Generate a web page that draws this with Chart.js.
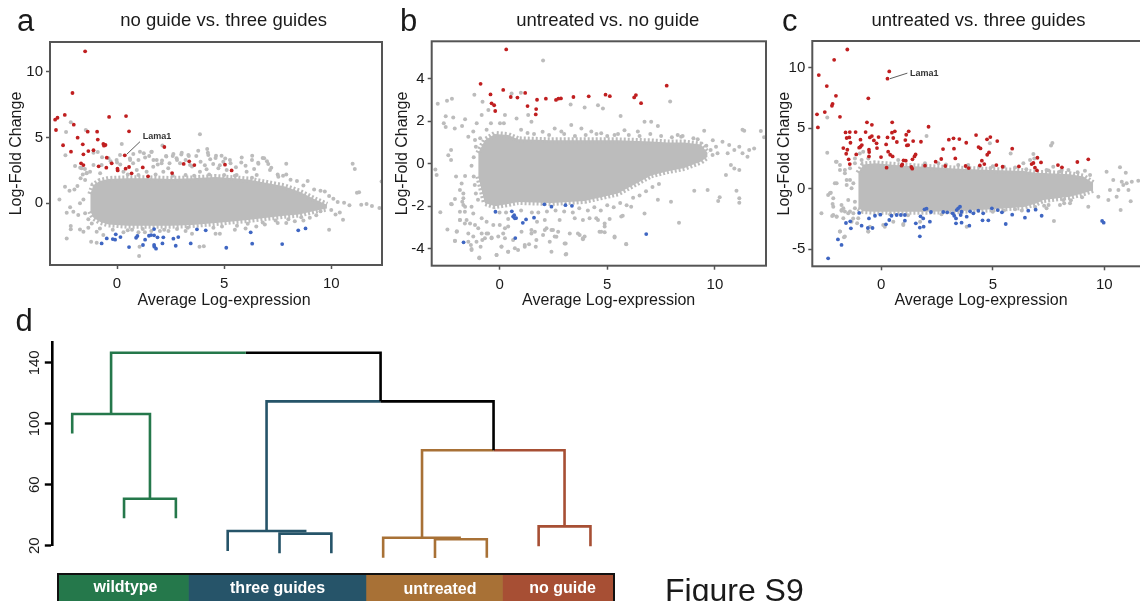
<!DOCTYPE html>
<html>
<head>
<meta charset="utf-8">
<title>Figure S9</title>
<script src="https://cdn.jsdelivr.net/npm/chart.js@4"></script>
<style>
  html, body { margin: 0; padding: 0; background: #fff; }
  #page { position: relative; width: 1140px; height: 601px; overflow: hidden; font-family: "Liberation Sans", Arial, sans-serif; }
  canvas { position: absolute; }
  .txt { position: absolute; white-space: nowrap; line-height: 1; color: #1a1a1a; }
  #keyBox { position: absolute; left: 57px; top: 572.7px; width: 554px; height: 40px; border: 2.6px solid #111; }
  #keyBox canvas { left: 0; top: 0; }
</style>
</head>
<body>
<div id="page">
  <canvas id="panelA" width="390" height="300" style="left:0;top:0"></canvas>
  <canvas id="panelB" width="385" height="300" style="left:385px;top:0"></canvas>
  <canvas id="panelC" width="400" height="300" style="left:770px;top:0"></canvas>
  <canvas id="panelD" width="640" height="230" style="left:0;top:335px"></canvas>
  <div id="keyBox"><canvas id="panelKey" width="554" height="40"></canvas></div>
</div>
<script>
const xTicks = [0, 5, 10];
const aYTicks = [0, 5, 10];
const bYTicks = [-4, -2, 0, 2, 4];
const cYTicks = [-5, 0, 5, 10];
const dYTicks = [20, 60, 100, 140];

// panel a: edges of the solid grey cloud, then the single points
const aCloudX = [-1.25, -1.1, -0.8, -0.4, 0.5, 1.5, 2.5, 3.5, 4.6, 5.5, 6.2, 7, 7.8, 8.5, 9.3, 9.8];
const aCloudTop = [0.7, 1.4, 1.7, 1.85, 1.9, 1.9, 1.85, 1.9, 2, 1.9, 1.8, 1.55, 1.3, 0.9, 0.25, -0.1];
const aCloudBottom = [-0.6, -1.1, -1.4, -1.6, -1.7, -1.7, -1.7, -1.65, -1.5, -1.35, -1.25, -1.1, -0.95, -0.85, -0.55, -0.4];
const aGrey = [[-2.16,6.15],[-2.38,5.42],[-1.46,5.57],[3.87,5.24],[4.21,4.13],[4.24,3.85],[0.22,4.5],[2.12,4.4],[-2.41,3.65],[-1.96,2.84],[-1.72,2.7],[-1.5,2.6],[-1.42,2.3],[-1.6,2.2],[-1.7,1.9],[-1.1,3.85],[-0.9,3.9],[-0.7,3.5],[-0.3,3.2],[0,3.1],[0.15,2.95],[0.6,3.4],[0.75,3.05],[1,3.3],[1.25,3.8],[1.5,3.6],[1.6,3.9],[1.7,3.3],[1.9,2.95],[2.1,3.25],[2.3,3.55],[2.45,3.05],[2.6,3.6],[2.8,3.3],[3,3.7],[3.2,3.3],[3.35,3.6],[3.5,2.8],[3.7,3.6],[3.9,3.15],[4.1,2.9],[4.35,3.35],[4.6,3.45],[4.8,2.9],[5.05,3.4],[5.3,3.05],[5.55,2.75],[5.8,3.1],[6,2.85],[6.3,3.3],[6.6,3],[6.8,3.45],[7,3.2],[7.2,2.7],[6.4,2.6],[7.5,2.2],[7.75,2.1],[7.9,2.2],[7.9,3],[8.1,1.8],[8.4,1.7],[8.7,1.35],[8.9,1.7],[9.2,1.05],[9.5,0.95],[9.7,0.9],[9.9,0.55],[10.1,0.35],[10.3,0.1],[10.6,0.05],[10.85,-0.15],[11,3],[11.1,2.6],[11.2,0.8],[11.3,0.85],[11.4,-0.1],[11.65,-0.05],[11.9,-0.2],[12.25,-0.35],[12.35,1.65],[10,-0.5],[10.2,-0.85],[10.4,-0.7],[9.9,-2],[10.55,-1.25],[9.5,-0.6],[9.3,-0.9],[9,-1.1],[8.7,-1.3],[8.3,-1.35],[7.9,-1.5],[7.5,-1.5],[6.9,-1.6],[6.5,-1.75],[6,-1.9],[5.5,-2],[4.6,-2.3],[4.8,-2.3],[3.85,-3.3],[4.05,-3.25],[1,-2.2],[1.3,-2.2],[2,-2.1],[2.4,-2.1],[3.2,-2.1],[3.5,-2.3],[1.05,-3.3],[0.7,-2],[0.3,-2.2],[1.03,-4],[-2.69,0.3],[-2.43,1.26],[-2.22,0.96],[-1.99,1.06],[-1.85,1.31],[-2.19,-0.3],[-2.35,-0.71],[-2.04,-0.64],[-1.81,-0.89],[-1.73,0],[-1.57,0.3],[-1.49,-0.76],[-1.34,-1.2],[-1.18,-1.52],[-2.16,-1.72],[-2.16,-1.97],[-1.73,-1.98],[-1.57,-2.15],[-1.34,-1.85],[-2.35,-2.66],[-1.21,-2.91],[-0.95,-2.99],[-0.95,-2.15],[-0.64,-2.41],
  [-1.65,2.66],[-1.42,2.28],[-1.1,2.91],[-1.26,2.4],[-0.72,2.91],[-0.4,3.42],[-0.02,3.29],[0.14,3.67],[0.61,3.29],[0.76,3.75],[1.07,3.92],[1.31,3.49],[1.62,3.92],[1.85,3.29],[2.08,3.04],[2.29,3.59],[2.63,3.75],[2.78,3.42],[3.02,3.85],[3.33,3.67],[2.94,3.04],[3.41,2.91],[3.79,4],[4.26,3.67],[4.62,3.62],[4.88,3.62],[4.96,3.16],[4.49,2.99],[4.18,2.58],[4.73,2.66],[5.12,2.53],[5.27,3.29],[5.82,3.49],[6.31,3.62],[6.59,3.09],[7.06,2.99],[6.87,3.42],[6.05,2.4],[6.52,2.15],[7.14,2.53],[7.53,2.02],[5.58,2.15],[3.87,2.4],[2.16,2.4],[2.39,2.66],[1.69,2.78],[1.38,2.4],[0.92,2.53],[0.3,2.4],[-0.79,2.28],[-1.49,1.77],
  [0.5,2.2],[1,2.15],[1.8,2.2],[2.6,2.1],[3.2,2.15],[3.6,2.1],[4.3,2.2],[5,2.15],[5.5,2.1],[6.3,1.95],[-0.8,-1.9],[-0.2,-2],[0.5,-2.05],[1.2,-1.95],[1.6,-2.1],[2.2,-2],[2.8,-1.95],[3.3,-1.85],[4.5,-1.85],[4.9,-1.75],[5.6,-1.7],[6.1,-1.55],[6.8,-1.45],[7.4,-1.3],[8,-1.2],[8.6,-1.05]];
const aRed = [[-1.49,11.54],[-2.08,8.38],[-2.44,6.71],[-2.89,6.35],[-2.78,6.5],[-2.02,5.97],[-0.37,6.56],[0.42,6.63],[-2.85,5.57],[-1.37,5.44],[-0.93,5.44],[0.56,5.47],[-1.84,4.99],[-0.9,4.84],[-1.6,4.48],[-0.64,4.51],[-0.54,4.43],[-0.61,4.38],[-2.52,4.41],[-1.1,4.03],[-1.34,3.97],[-2.15,3.92],[-1.57,3.72],[-0.48,3.47],[0.36,3.65],[2.21,4.28],[-1.68,3.04],[-1.57,2.91],[-0.86,2.81],[-0.25,3.04],[-0.5,2.71],[0.02,2.63],[0.03,2.5],[0.4,2.63],[0.56,2.76],[0.68,2.28],[1.2,2.73],[1.45,2.05],[2.57,2.3],[3.11,2.99],[3.37,3.19],[3.61,2.91],[5.04,2.94],[5.35,2.5]];
const aBlue = [[1.73,-1.95],[3.73,-1.97],[4.14,-2.05],[6.24,-2.2],[8.46,-2.05],[8.8,-1.9],[-0.06,-2.35],[-0.48,-2.66],[-0.2,-2.71],[-0.09,-2.76],[0.16,-2.56],[0.95,-2.48],[0.89,-2.61],[1.31,-2.76],[1.49,-2.46],[1.59,-2.41],[1.73,-2.43],[1.89,-2.58],[2.16,-2.58],[2.63,-2.68],[2.86,-2.56],[-0.72,-3.04],[0.56,-3.32],[1.21,-3.16],[1.73,-3.16],[1.74,-3.29],[1.82,-3.44],[2.12,-3.04],[2.74,-3.22],[3.44,-3.04],[5.1,-3.37],[6.31,-3.06],[7.71,-3.09]];
const aLamaLine = [[0.45,3.72],[1.07,4.68]];
const aLamaAt = [1.2, 5.04];

// panel b
const bCloudX = [-0.99, -0.68, -0.22, 0.4, 0.86, 2.41, 3.95, 5.49, 7.04, 7.81, 8.58, 9.35, 9.66];
const bCloudTop = [0.5, 1.1, 1.4, 1.35, 1.15, 1.1, 1.1, 1.1, 1.05, 1, 1, 0.9, 0.5];
const bCloudBottom = [-0.6, -1.85, -2, -1.9, -1.8, -1.85, -1.75, -1.4, -0.55, -0.35, -0.2, 0.1, 0.33];
const bGrey = [[-2.87,2.82],[-2.44,2.96],[-2.21,3.06],[-1.17,3.25],[-2.5,2.23],[-2.15,2.18],[-2.59,1.9],[-2.5,1.73],[-2.08,1.66],[-1.74,1.77],[-1.6,2.09],[-2.98,-0.27],[-2.92,-0.53],[-2.75,-2.29],[-2.42,-3.1],[-2.07,-3.62],[-1.98,-3.18],[-2.25,-1.9],[-2.02,-0.6],[-2.38,0.4],[-2.25,0.64],[-2.25,0.17],[-1.6,-0.58],[-1.76,-0.93],[-1.84,-1.24],[-1.68,-1.4],[-1.73,-1.79],[-1.6,-2.02],[-1.84,-2.65],[-1.53,-2.65],[-1.45,-3.28],[-1.33,-3.83],[-1.3,-4.06],[-0.94,-4.41],[-0.88,-3.91],[-0.6,-3.28],[-0.68,-3.51],[-0.37,-3.47],[-0.14,-4.3],[0.09,-3.91],[0.17,-3.28],[0.4,-2.96],[0.4,-4.14],[0.71,-3.98],[1.17,-3.83],[1.48,-3.28],[1.71,-3.59],[2.1,-3.12],[2.41,-3.12],[2.64,-3.44],[3.02,-3.75],[3.1,-4.25],[3.64,-3.28],[3.87,-3.51],[4.72,-3.2],[5.34,-3.47],[5.88,-3.78],[4.88,-2.81],[4.57,-2.65],[5.65,-2.49],[6.11,-2.02],[6.73,-2.34],[8.33,-2.78],[10.15,-1.76],[10.22,-1.58],[11.13,-1.84],[11.13,-1.63],[11,-1.27],[9.66,-1.24],[10.51,-0.53],[10.9,-0.22],[11.13,-0.3],[7.35,-1.7],[7.96,-1.79],[9.04,-1.27],[9.5,1.55],[9.9,1.1],[10.05,0.8],[10.35,1.03],[10.66,0.88],[10.9,0.64],[10.59,0.49],[10.12,0.49],[9.89,0.41],[11.28,1.6],[11.36,1.55],[11.13,0.8],[11.59,0.64],[11.28,0.49],[11.51,0.33],[11.82,0.72],[12.13,1.54],[12.28,1.25],[10.74,-0.06],[3.3,2.79],[3.95,2.64],[4.57,2.75],[4.8,2.6],[5.62,2.24],[7.92,2.93],[2.02,4.86],[-0.79,2.92],[0.99,3.34],[0.56,3.3],[1.33,2.29],[1.48,1.98],[0.79,2.13],[0.25,2.29],[0.02,1.9],[-0.52,2.53],[-0.83,2.29],[-1.06,1.9],[-1.22,1.51],[-1.45,1.27],[-1.14,1.11],[2.56,1.66],[2.87,1.51],[3.33,1.82],[3.8,1.66],[4.26,1.51],[4.72,1.43],[5.34,1.35],[6.73,1.98],[7.04,1.98],[7.35,1.77],[8.27,1.35],[8.43,1.27],[6.42,1.51],[5.8,1.58],
  [-2.07,-1.66],[-2.22,-1.91],[-1.99,-3.2],[-2.07,-3.64],[-1.68,-1.63],[-1.68,-1.94],[-1.61,-2.26],[-1.3,-2.02],[-1.22,-2.34],[-1.84,-2.65],[-1.61,-2.81],[-1.37,-2.81],[-1.14,-2.88],[-0.99,-3.04],[-0.83,-3.28],[-1.22,-3.43],[-1.45,-3.67],[-1.07,-3.67],[-0.8,-3.59],[-1.3,-4.01],[-0.94,-4.45],[-0.53,-3.28],[-0.37,-3.51],[-0.06,-3.43],[0.25,-3.51],[0.09,-3.9],[-0.14,-4.3],[0.4,-4.14],[0.63,-3.59],[0.86,-4.06],[1.17,-3.91],[1.37,-3.79],[1.68,-3.91],[1.02,-3.2],[1.48,-3.12],[1.64,-3.2],[2.18,-3.04],[2.48,-3.12],[2.72,-3.2],[2.56,-3.43],[2.02,-3.36],[2.33,-3.67],[2.41,-4.14],[3.07,-3.75],[3.07,-4.27],[3.26,-3.28],[3.72,-3.36],[3.95,-3.43],[3.87,-3.56],[4.64,-3.2],[4.88,-3.23],[5.34,-3.43],[5.88,-3.79],[4.88,-2.96],[4.18,-2.57],[4.49,-2.57],[5.11,-2.6],[5.72,-2.45],[3.49,-2.57],[3.87,-2.65],[2.79,-2.65],[2.1,-2.65],[1.74,-2.73],[0.01,-2.88],[0.25,-3.04],[-0.29,-2.88],[-0.6,-2.73],[-0.83,-2.57],[-1.84,-2.26],
  [0,-2.3],[0.3,-2.3],[0.4,-2.6],[1,-2.2],[1.5,-2.3],[1.8,-2.3],[2.2,-2.25],[2.6,-2.2],[3,-2.25],[3.4,-2.3],[3.7,-2.1],[4.1,-2.2],[4.4,-2.05],[4.7,-2.2],[5,-1.95],[5.3,-2.05],[5.6,-1.85],[5.9,-1.95],[6.2,-1.6],[6.5,-1.5],[6.8,-1.3],[7.1,-1.1],[7.4,-0.95],
  [1,1.6],[1.3,1.45],[1.6,1.4],[2,1.5],[2.3,1.35],[3,1.4],[3.5,1.3],[4,1.35],[4.5,1.4],[5,1.3],[5.5,1.4],[6,1.35],[6.5,1.3],[7,1.4],[7.5,1.3],[8,1.25],[8.5,1.3],[9,1.2],[9.2,1.15],[9.6,0.85],[9.8,0.65],[0.2,1.9],[-0.4,1.9],[-0.6,1.6],[-0.9,1.2],[-1.1,0.8],[-1.2,0.3],[-1.3,-0.1],[-1.2,-0.6],[-1.15,-1],[-1.1,-1.4],[-1,-1.7]];
const bRed = [[0.31,5.38],[-0.88,3.76],[7.76,3.67],[0.17,3.47],[-0.42,3.26],[1.19,3.33],[0.52,3.14],[0.83,3.11],[1.74,3.01],[2.15,3.06],[2.62,3],[2.73,3.06],[2.85,3.07],[3.43,3.14],[4.14,3.17],[4.92,3.25],[5.12,3.18],[6.25,3.12],[6.33,3.23],[6.57,2.85],[-0.37,2.84],[-0.25,2.75],[1.3,2.71],[-0.2,2.48],[1.7,2.57],[1.68,2.32]];
const bBlue = [[-1.67,-3.7],[-0.19,-2.26],[0.57,-2.24],[0.63,-2.49],[0.68,-2.42],[0.71,-2.57],[0.77,-2.56],[1.08,-2.78],[1.23,-2.62],[1.6,-2.54],[2.08,-1.91],[2.41,-2.02],[3.06,-1.95],[3.36,-1.98],[0.73,-3.5],[6.81,-3.31]];

// panel c
const cCloudX = [-1.03, -0.8, -0.28, 1, 1.96, 3.45, 4.95, 6.4, 6.97, 7.27, 8.46, 9.06, 9.5];
const cCloudTop = [1.3, 2, 2.09, 1.9, 1.8, 1.65, 1.54, 1.45, 1.3, 1.3, 1.2, 1, 0.44];
const cCloudBottom = [-1.6, -1.85, -1.9, -1.9, -1.9, -1.85, -1.7, -1.5, -1.2, -0.93, -0.66, -0.38, -0.1];
const cGrey = [[-2.42,5.88],[-2.42,2.97],[-2.68,-2.03],[-2.38,-0.52],[-2.26,-0.33],[-2.18,-1.26],[-2.15,-2.17],[-2,-2.31],[-1.85,-3.54],[-1.67,-4.01],[-1.78,-1.81],[-1.7,-1.62],[-2.03,2.23],[-1.85,1.95],[-1.63,1.54],[-1.55,0.3],[-2.08,0.44],[-1.48,-2.03],[-1.26,-2.45],[-1.08,-2.86],[-0.58,-3.54],[-0.51,-3.13],[0.16,-3.13],[0.99,-2.91],[2.03,4.34],[-0.81,3.05],[-0.96,2.91],[-1.18,2.5],[4.87,3.74],[5.8,2.91],[6.82,2.86],[6.86,2.5],[7.67,3.76],[7.61,3.57],[6.67,2.36],[6.37,2.09],[7.41,1.54],[7.71,1.81],[8.09,1.54],[8.39,1.54],[9.13,1.48],[9.36,1.13],[10.7,1.76],[10.96,1.32],[10.1,1.4],[10.4,0.71],[10.78,0.58],[11,0.44],[11.23,0.58],[11.52,0.66],[10.25,-0.11],[10.63,-0.11],[10.85,0.3],[11.08,-0.11],[10.73,-1.76],[11.18,-1.04],[10.55,-0.66],[10.18,-0.93],[9.73,-0.66],[9.28,-1.48],[7.74,-2.66],[8.46,-1.21],[8.01,-1.35],[7.41,-1.62],[8.16,-0.93],[3.83,-3.13],
  [-2,2.23],[-1.85,1.54],[-1.63,1.27],[-1.4,1.68],[-1.55,0.72],[-1.25,0.44],[-1.33,0.03],[-2,0.44],[-2.3,-0.38],[-2.15,-0.79],[-2.15,-1.48],[-1.78,-1.34],[-1.48,-0.93],[-1.63,-1.89],[-1.4,-1.89],[-2.2,-2.25],[-2,-2.3],[-1.78,-1.76],[-1.7,-2.44],[-1.18,-1.07],[-1.18,-1.62],[-1.25,-2.03],[-1.03,-2.44],[-1.33,-2.72],[-1.85,-3.54],[-1.63,-3.95],[-0.58,-3.54],[0.09,-2.99],[0.54,-2.72],[0.99,-2.99],[1.74,-2.72],[-0.88,2.37],[-0.58,2.5],[-1.18,2.09],[1.96,2.09],[0.76,2.37],[2.56,2.09],[3.45,1.95],[3.9,1.95],[-1.4,0.72],
  [5,1.85],[5.5,1.8],[6,1.75],[6.5,1.6],[7.5,1.5],[8,1.4],[8.8,1.35],[2.9,2],[4.4,1.8],[4.9,1.7],[5,-1.9],[5.5,-1.8],[6,-1.7],[6.3,-1.8],[6.9,-1.5],[7.5,-1.35],[8.5,-0.95],[9,-0.7],[2.7,-2.1],[1.2,-2.2],[0.4,-2.1],[7.3,-1.4],[8.2,-1.2]];
const cRed = [[-1.52,11.48],[-2.11,10.63],[-2.8,9.37],[0.36,9.67],[0.28,9.07],[-2.44,8.46],[-2.03,7.66],[-0.58,7.45],[-2.18,7],[-2.21,6.84],[-2.53,6.32],[-2.88,6.13],[-1.85,5.93],[-2.84,5.05],[-0.64,5.47],[-0.42,5.27],[0.49,5.47],[2.12,5.11],[-1.6,4.64],[-1.41,4.67],[-1.15,4.67],[-0.7,4.67],[0.61,4.73],[0.48,4.62],[1.23,4.73],[1.12,4.45],[-1.55,4.18],[-1.43,4.23],[-0.51,4.23],[-0.42,4.34],[-0.12,4.26],[0.28,4.23],[0.54,4.18],[-0.93,4.04],[-1.38,3.79],[-0.33,3.98],[0.7,3.85],[1.43,3.93],[1.08,4.01],[1.78,3.87],[3.03,4.04],[3.24,4.15],[3.5,4.09],[4.25,4.42],[4.74,4.07],[4.89,4.26],[5.2,3.93],[3.81,3.79],[-0.87,3.6],[-0.21,3.74],[0.22,3.65],[1.15,3.57],[1.21,3.6],[-0.19,3.35],[-0.93,3.46],[-0.99,3.38],[-1.7,3.35],[-1.52,3.21],[2.77,3.27],[3.26,3.3],[4.36,3.43],[4.45,3.32],[5.87,3.3],[-0.55,3.21],[-0.54,3.02],[-1.57,2.88],[-1.12,2.83],[0.31,3.05],[0.4,2.8],[0.51,2.66],[-0.55,2.66],[-0.01,2.61],[1.54,2.83],[1.49,2.66],[1.4,2.42],[4.83,2.99],[4.75,2.8],[3.32,2.5],[-1.46,2.42],[-1.41,2.03],[1.1,2.31],[1,2.34],[0.94,2],[0.91,1.9],[2.69,2.45],[2.44,2.23],[2.87,1.87],[3.78,1.87],[3.92,1.7],[1.35,1.79],[1.39,1.65],[1.96,1.9],[0.24,1.73],[4.51,2.31],[4.62,2.03],[4.42,1.92],[5.16,1.95],[5.44,1.81],[6.17,1.84],[6.74,2.03],[6.82,2.12],[7,2.55],[7.16,2.17],[6.89,1.73],[6.98,1.51],[7.92,1.95],[8.1,1.76],[8.79,2.2],[9.28,2.42]];
const cBlue = [[-2.38,-5.74],[-1.94,-4.18],[-1.78,-4.64],[1.73,-3.93],[1.73,-3.21],[1.9,-3.13],[-1.36,-3.27],[-0.88,-3.05],[-0.6,-3.24],[-0.39,-3.24],[-1.58,-2.83],[-1.39,-2.69],[-0.99,-2],[-0.55,-2.45],[-0.28,-2.23],[-0.04,-2.14],[0.21,-2.94],[0.36,-2.58],[0.46,-2.23],[0.69,-2.17],[0.88,-2.17],[1.06,-2.64],[1.55,-2.86],[1.94,-1.7],[2.03,-1.65],[1.76,-2.28],[1.88,-2.45],[2.18,-2.72],[1.06,-2.17],[2.23,-1.92],[2.78,-1.92],[2.96,-1.95],[3.2,-2.03],[3.27,-2.23],[3.35,-2.45],[3.35,-2.86],[3.6,-2.8],[3.95,-3.05],[3.53,-1.48],[3.38,-1.76],[3.45,-1.62],[3.6,-1.9],[3.56,-2.17],[3.83,-2.31],[3.98,-1.87],[4.13,-2.03],[4.35,-1.81],[4.57,-2.03],[4.54,-2.61],[4.8,-2.61],[4.96,-1.62],[5.22,-1.76],[5.41,-1.95],[5.58,-2.91],[5.87,-2.14],[6.44,-2.39],[6.59,-1.81],[6.92,-1.73],[7.19,-2.23],[9.9,-2.66],[9.97,-2.8]];
const cLamaLine = [[0.39,9.07],[1.17,9.53]];
const cLamaAt = [1.29, 9.53];

// panel d: x is the leaf position 1..11, y the merge height
const greenBranches = [
  [[1, 93.7], [1, 106.4], [2.5, 106.4], [2.5, 50.8]],
  [[2, 38], [2, 50.8], [3, 50.8], [3, 38]],
  [[1.75, 106.4], [1.75, 146.6], [4.35, 146.6]]
];
const blackBranches = [
  [[4.35, 146.6], [6.95, 146.6], [6.95, 114.7]],
  [[6.95, 114.7], [9.13, 114.7], [9.13, 82.6]]
];
const blueBranches = [
  [[4, 16.5], [4, 29.6], [5.52, 29.6]],
  [[5, 15], [5, 27.9], [6, 27.9], [6, 15]],
  [[4.75, 29.6], [4.75, 114.7], [6.95, 114.7]]
];
const tanBranches = [
  [[7, 12.1], [7, 25.2], [8.5, 25.2]],
  [[8, 12], [8, 24.2], [9, 24.2], [9, 12.1]],
  [[7.75, 25.2], [7.75, 82.6], [9.13, 82.6]]
];
const redBranches = [
  [[10, 19.6], [10, 32.7], [11, 32.7], [11, 19.6]],
  [[10.5, 32.7], [10.5, 82.6], [9.13, 82.6]]
];

const keyNames = ['wildtype', 'three guides', 'untreated', 'no guide'];
const keyValues = [129.4, 177.5, 136.5, 110.6];
const keyColors = ['#25784b', '#265469', '#a87136', '#a74f34'];

const GREY = '#bcbcbc';
const RED = '#c01f20';
const BLUE = '#3f66c2';
const FONT = '"Liberation Sans", Arial, sans-serif';

const toXY = (pairs) => pairs.map((p) => ({ x: p[0], y: p[1] }));

// draws the frame round the plot area
const framePlugin = {
  id: 'frame',
  afterDraw(chart) {
    const a = chart.chartArea;
    const ctx = chart.ctx;
    ctx.save();
    ctx.strokeStyle = '#555';
    ctx.lineWidth = 2;
    ctx.strokeRect(a.left, a.top, a.right - a.left, a.bottom - a.top);
    ctx.restore();
  }
};

function lamaPlugin(at) {
  return {
    id: 'lama',
    afterDraw(chart) {
      const ctx = chart.ctx;
      ctx.save();
      ctx.font = 'bold 9px ' + FONT;
      ctx.fillStyle = '#333';
      ctx.textBaseline = 'middle';
      ctx.fillText('Lama1', chart.scales.x.getPixelForValue(at[0]), chart.scales.y.getPixelForValue(at[1]));
      ctx.restore();
    }
  };
}

function maPanel(id, p) {
  // dashed thick edge roughens the outline of the cloud
  const cloud = (values, fill) => ({
    type: 'line',
    data: p.cloudX.map((x, i) => ({ x: x, y: values[i] })),
    borderColor: GREY,
    borderWidth: 6,
    borderDash: [2, 2],
    backgroundColor: GREY,
    pointRadius: 0,
    tension: 0,
    fill: fill,
    order: 5
  });
  const dots = (pairs, color, order, r) => ({
    data: toXY(pairs),
    backgroundColor: color,
    borderWidth: 0,
    pointRadius: r,
    order: order
  });
  const datasets = [
    cloud(p.top, '+1'),
    cloud(p.bottom, false),
    dots(p.grey, GREY, 4, 2),
    dots(p.red, RED, 2, 1.9),
    dots(p.blue, BLUE, 1, 1.9)
  ];
  if (p.lamaLine) {
    datasets.push({
      type: 'line',
      data: toXY(p.lamaLine),
      borderColor: '#333',
      borderWidth: 0.8,
      pointRadius: 0,
      fill: false,
      order: 0
    });
  }
  return new Chart(document.getElementById(id), {
    type: 'scatter',
    data: { datasets: datasets },
    options: {
      responsive: false,
      animation: false,
      layout: { padding: { top: p.padTop, right: p.padRight, left: 0, bottom: 0 } },
      plugins: { legend: { display: false }, tooltip: { enabled: false } },
      scales: {
        x: {
          type: 'linear',
          min: p.xMin,
          max: p.xMax,
          afterBuildTicks: (s) => { s.ticks = xTicks.map((v) => ({ value: v })); },
          afterFit: (s) => { s.height = p.axisH; },
          border: { display: false },
          grid: { drawOnChartArea: false, tickLength: 4, tickColor: '#555', tickWidth: 1.5 },
          ticks: { color: '#1a1a1a', font: { family: FONT, size: 15 }, padding: 6, maxRotation: 0, autoSkip: false, callback: (v) => String(v) }
        },
        y: {
          type: 'linear',
          min: p.yMin,
          max: p.yMax,
          afterBuildTicks: (s) => { s.ticks = p.yTicks.map((v) => ({ value: v })); },
          afterFit: (s) => { s.width = p.axisW; },
          border: { display: false },
          grid: { drawOnChartArea: false, tickLength: 4, tickColor: '#555', tickWidth: 1.5 },
          ticks: { color: '#1a1a1a', font: { family: FONT, size: 15 }, padding: 3, autoSkip: false, callback: (v) => String(v) },
          title: { display: true, text: 'Log-Fold Change', color: '#1a1a1a', font: { family: FONT, size: 16 }, padding: { top: p.titlePad, bottom: 0 } }
        }
      }
    },
    plugins: p.lamaAt ? [framePlugin, lamaPlugin(p.lamaAt)] : [framePlugin]
  });
}

maPanel('panelA', {
  cloudX: aCloudX, top: aCloudTop, bottom: aCloudBottom, grey: aGrey, red: aRed, blue: aBlue,
  lamaLine: aLamaLine, lamaAt: aLamaAt, yTicks: aYTicks,
  xMin: -3.13, xMax: 12.37, yMin: -4.68, yMax: 12.25,
  padTop: 42, padRight: 8, axisH: 35, axisW: 50, titlePad: 7
});
maPanel('panelB', {
  cloudX: bCloudX, top: bCloudTop, bottom: bCloudBottom, grey: bGrey, red: bRed, blue: bBlue,
  yTicks: bYTicks,
  xMin: -3.15, xMax: 12.37, yMin: -4.8, yMax: 5.76,
  padTop: 41.3, padRight: 3, axisH: 34.3, axisW: 46.7, titlePad: 8
});
maPanel('panelC', {
  cloudX: cCloudX, top: cCloudTop, bottom: cCloudBottom, grey: cGrey, red: cRed, blue: cBlue,
  lamaLine: cLamaLine, lamaAt: cLamaAt, yTicks: cYTicks,
  xMin: -3.09, xMax: 12.27, yMin: -6.4, yMax: 12.18,
  padTop: 41, padRight: 15, axisH: 33.7, axisW: 42.3, titlePad: 5
});

// dendrogram
const branchSets = [
  [greenBranches, keyColors[0]],
  [blackBranches, '#000'],
  [blueBranches, keyColors[1]],
  [tanBranches, keyColors[2]],
  [redBranches, keyColors[3]]
];
const dendroData = [];
branchSets.forEach(([lines, color]) => {
  lines.forEach((line) => {
    dendroData.push({
      data: toXY(line),
      borderColor: color,
      borderWidth: 2.6,
      pointRadius: 0,
      tension: 0,
      fill: false,
      clip: false,
      borderJoinStyle: 'miter',
      borderCapStyle: 'butt'
    });
  });
});
new Chart(document.getElementById('panelD'), {
  type: 'line',
  data: { datasets: dendroData },
  options: {
    responsive: false,
    animation: false,
    layout: { padding: { top: 7.7, right: 20, left: 0, bottom: 19.3 } },
    plugins: { legend: { display: false }, tooltip: { enabled: false } },
    scales: {
      x: { type: 'linear', display: false, min: 0.606, max: 11.57 },
      y: {
        type: 'linear',
        min: 20,
        max: 153.2,
        afterBuildTicks: (s) => { s.ticks = dYTicks.map((v) => ({ value: v })); },
        afterFit: (s) => { s.width = 51.8; s.paddingTop = 0; s.paddingBottom = 0; },
        border: { color: '#000', width: 2.6 },
        grid: { drawOnChartArea: false, tickLength: 7, tickColor: '#000', tickWidth: 2.4 },
        ticks: { color: '#1a1a1a', font: { family: FONT, size: 15 }, padding: -2.6, crossAlign: 'center', minRotation: 90, maxRotation: 90, autoSkip: false, callback: (v) => String(v) }
      }
    }
  }
});

// colour key under the dendrogram
new Chart(document.getElementById('panelKey'), {
  type: 'bar',
  data: {
    labels: ['key'],
    datasets: keyNames.map((name, i) => ({
      label: name,
      data: [keyValues[i]],
      backgroundColor: keyColors[i],
      borderWidth: 0,
      barPercentage: 1,
      categoryPercentage: 1
    }))
  },
  options: {
    indexAxis: 'y',
    responsive: false,
    animation: false,
    plugins: { legend: { display: false }, tooltip: { enabled: false } },
    scales: {
      x: { display: false, stacked: true, min: 0, max: 554 },
      y: { display: false, stacked: true }
    }
  }
});

// panel letters, titles and the other loose text: [text, x, baseline, size, anchor, weight, colour]
const looseText = [
  ['a', 17, 31, 31, 'left'],
  ['b', 400, 31.5, 31, 'left'],
  ['c', 782, 31, 31, 'left'],
  ['d', 15.5, 331, 31, 'left'],
  ['no guide vs. three guides', 223.7, 27, 18.5, 'center'],
  ['untreated vs. no guide', 607.8, 27, 18.5, 'center'],
  ['untreated vs. three guides', 978.5, 27, 18.5, 'center'],
  ['Average Log-expression', 224, 305.5, 16, 'center'],
  ['Average Log-expression', 608.7, 305.5, 16, 'center'],
  ['Average Log-expression', 981, 305.5, 16, 'center'],
  ['wildtype', 125.5, 592.5, 16, 'center', 'bold', '#fff'],
  ['three guides', 277.6, 593.3, 16, 'center', 'bold', '#fff'],
  ['untreated', 440, 594.3, 16, 'center', 'bold', '#fff'],
  ['no guide', 562.5, 593.3, 16, 'center', 'bold', '#fff'],
  ['Figure S9', 665, 601.5, 32, 'left']
];
const page = document.getElementById('page');
looseText.forEach(([text, x, baseline, size, anchor, weight, color]) => {
  const el = document.createElement('div');
  el.className = 'txt';
  el.textContent = text;
  el.style.left = x + 'px';
  el.style.top = (baseline - 0.8465 * size) + 'px';
  el.style.fontSize = size + 'px';
  if (anchor === 'center') el.style.transform = 'translateX(-50%)';
  if (weight) el.style.fontWeight = weight;
  if (color) el.style.color = color;
  page.appendChild(el);
});
</script>
</body>
</html>
